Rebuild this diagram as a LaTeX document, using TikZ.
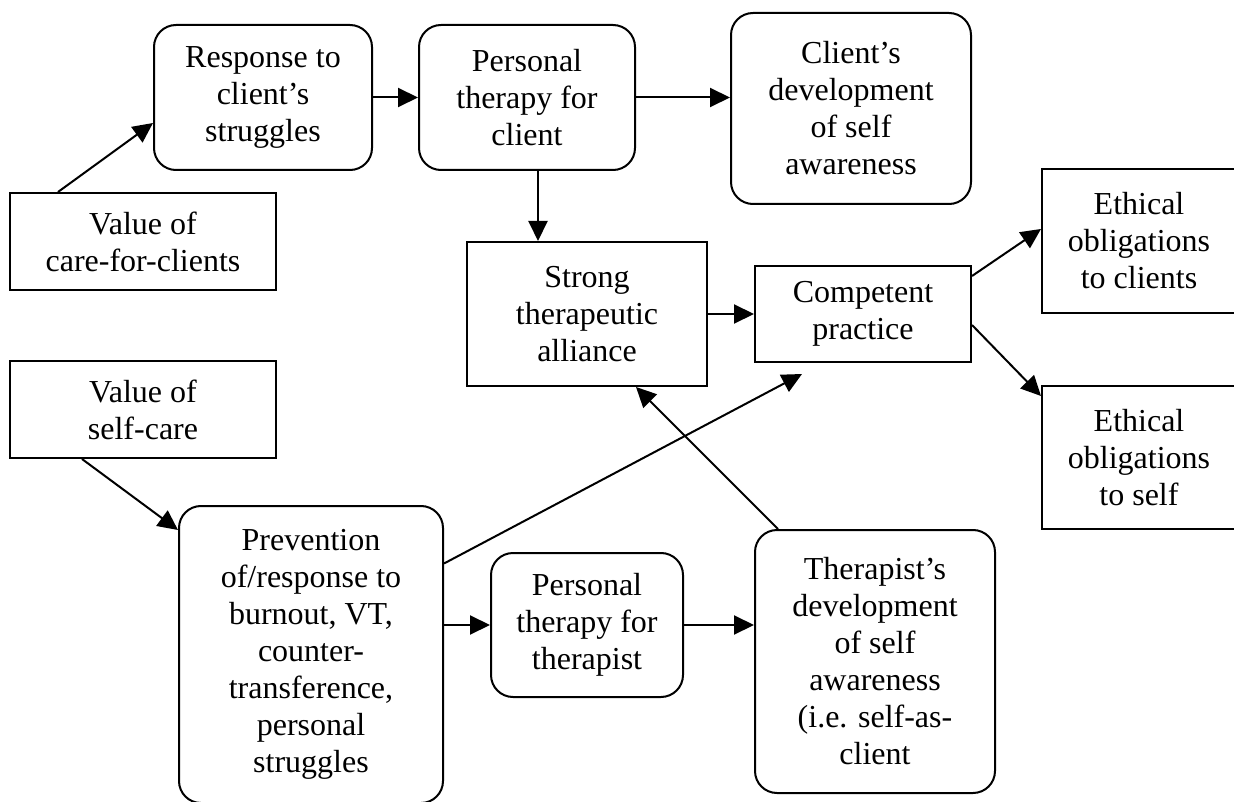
\documentclass[tikz,border=0pt]{standalone}
\usepackage{fontspec}
\setmainfont{Liberation Serif}
\usetikzlibrary{arrows.meta,calc}
\begin{document}
\begin{tikzpicture}[x=1pt,y=-1pt,
  box/.style={draw, line width=2pt, align=center, inner sep=0pt, font=\fontsize{32}{37}\selectfont},
  rbox/.style={box, rounded corners=22pt},
  arr/.style={line width=2pt, -{Triangle[length=20pt,width=19pt]}}]
\useasboundingbox (0,0) rectangle (1234,802);
\clip (0,0) rectangle (1234,802);

\node[rbox, minimum width=218pt, minimum height=145pt] (resp) at (263,97.5) {Response to\\client’s\\struggles};
\node[rbox, minimum width=216pt, minimum height=145pt] (pcl) at (527,97.5) {Personal\\therapy for\\client};
\node[rbox, minimum width=240pt, minimum height=191pt] (cdev) at (851,108.5) {Client’s\\development\\of self\\awareness};
\node[box, minimum width=266pt, minimum height=97pt] (vcare) at (143,241.5) {Value of\\care-for-clients};
\node[box, minimum width=240pt, minimum height=144pt] (strong) at (587,314) {Strong\\therapeutic\\alliance};
\node[box, minimum width=216pt, minimum height=96pt] (comp) at (863,314) {Competent\\practice};
\node[box, minimum width=194pt, minimum height=144pt] (eclient) at (1139,241) {Ethical\\obligations\\to clients};
\node[box, minimum width=194pt, minimum height=143pt] (eself) at (1139,457.5) {Ethical\\obligations\\to self};
\node[box, minimum width=266pt, minimum height=97pt] (vself) at (143,409.5) {Value of\\self-care};
\node[rbox, minimum width=264pt, minimum height=297pt] (prev) at (311,654.5) {Prevention\\of/response to\\burnout, VT,\\counter-\\transference,\\personal\\struggles};
\node[rbox, minimum width=192pt, minimum height=144pt] (pth) at (587,625) {Personal\\therapy for\\therapist};
\node[rbox, minimum width=240pt, minimum height=263pt] (tdev) at (875,661.5) {Therapist’s\\development\\of self\\awareness\\(i.e. self-as-\\client};

\draw[arr] ([xshift=49pt]vcare.north west) -- ([yshift=-25.5pt]resp.west);
\draw[arr] (resp.east) -- (pcl.west);
\draw[arr] (pcl.east) -- (pcl.east -| cdev.west);
\draw[arr] ([xshift=11pt]pcl.south) -- ([xshift=11pt]pcl.south |- strong.north);
\draw[arr] (strong.east) -- (comp.west);
\draw[arr] ([yshift=38pt]comp.east) -- ([yshift=12pt]eclient.west);
\draw[arr] ([yshift=-11pt]comp.east) -- ([yshift=61.5pt]eself.west);
\draw[arr] ([xshift=73pt]vself.south west) -- ([yshift=124.5pt]prev.west);
\draw[arr] (pth.west -| prev.east) -- (pth.west);
\draw[arr] (pth.east) -- (pth.east -| tdev.west);
\draw[arr] ([yshift=91pt]prev.east) -- ([xshift=-61pt,yshift=-11pt]comp.south);
\draw[arr] ([xshift=-97pt]tdev.north) -- ([xshift=49pt]strong.south);
\end{tikzpicture}
\end{document}
